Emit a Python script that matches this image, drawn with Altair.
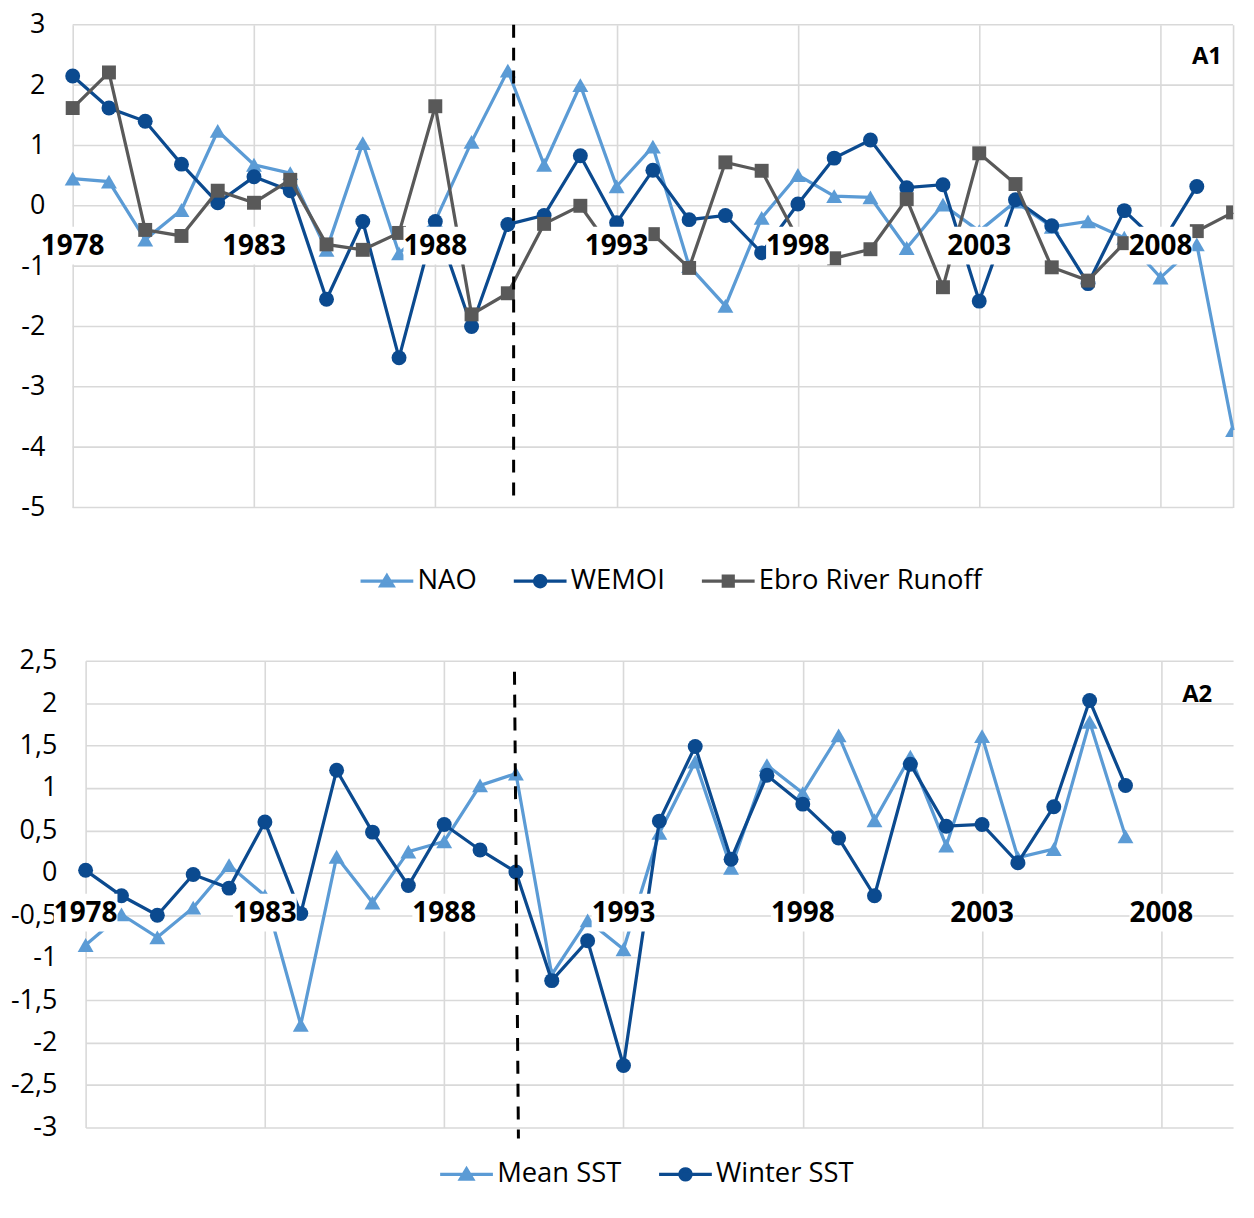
import math
import altair as alt
import pandas as pd

# ---------------- data ----------------
years = list(range(1978, 2011))
nao = [0.45, 0.40, -0.56, -0.07, 1.24, 0.68, 0.54, -0.73, 1.04, -0.79,
       -0.25, 1.06, 2.24, 0.68, 2.00, 0.32, 0.98, -1.00, -1.66, -0.20,
       0.51, 0.16, 0.14, -0.70, 0.02, -0.42, 0.07, -0.35, -0.26, -0.53,
       -1.19, -0.64, -3.72]
wemoi = [2.15, 1.62, 1.40, 0.69, 0.05, 0.48, 0.25, -1.55, -0.26, -2.52,
         -0.26, -2.00, -0.31, -0.16, 0.83, -0.28, 0.59, -0.23, -0.16, -0.78,
         0.03, 0.79, 1.09, 0.30, 0.35, -1.58, 0.10, -0.33, -1.29, -0.08,
         -0.65, 0.32, None]
ebro = [1.62, 2.21, -0.40, -0.50, 0.25, 0.05, 0.43, -0.64, -0.73, -0.45,
        1.65, -1.80, -1.45, -0.30, 0.00, -0.84, -0.47, -1.03, 0.72, 0.58,
        -0.55, -0.87, -0.72, 0.11, -1.35, 0.87, 0.36, -1.02, -1.24, -0.62,
        -0.50, -0.42, -0.11]

sst_years = list(range(1978, 2008))
mean_sst = [-0.85, -0.49, -0.76, -0.41, 0.09, -0.27, -1.79, 0.19, -0.35, 0.25,
            0.37, 1.03, 1.17, -1.20, -0.56, -0.90, 0.47, 1.31, 0.06, 1.27,
            0.94, 1.62, 0.62, 1.37, 0.32, 1.61, 0.18, 0.28, 1.78, 0.43]
winter_sst = [0.03, -0.27, -0.50, -0.02, -0.18, 0.60, -0.48, 1.21, 0.48, -0.15,
              0.57, 0.27, 0.01, -1.27, -0.80, -2.27, 0.61, 1.49, 0.16, 1.15,
              0.81, 0.41, -0.27, 1.28, 0.55, 0.57, 0.12, 0.78, 2.03, 1.03]

tick_years = [1978, 1983, 1988, 1993, 1998, 2003, 2008]
top_yticks = [3, 2, 1, 0, -1, -2, -3, -4, -5]
bottom_yticks = [2.5, 2, 1.5, 1, 0.5, 0, -0.5, -1, -1.5, -2, -2.5, -3]

series_a1 = ["NAO", "WEMOI", "Ebro River Runoff"]
series_a2 = ["Mean SST", "Winter SST"]

# ---------------- style ----------------
LIGHT = "#5B9BD5"
DARK = "#0B4A8F"
GRAY = "#595959"
GRID = "#D9D9D9"
FONT = "Open Sans"
X_START, X_END = 1978, 2010
W = 1153


def long_df(xs, cols):
    rows = []
    for name, vals in cols:
        for x, v in zip(xs, vals):
            if v is not None:
                rows.append({"year": x, "value": v, "series": name})
    return pd.DataFrame(rows)


df1 = long_df(years, [("NAO", nao), ("WEMOI", wemoi), ("Ebro River Runoff", ebro)])
df2 = long_df(sst_years, [("Mean SST", mean_sst), ("Winter SST", winter_sst)])
ticks_df = pd.DataFrame({"tick": tick_years, "label": [str(t) for t in tick_years]})


def poly_circle(r, n=20):
    pts = [(r * math.cos(2 * math.pi * i / n), r * math.sin(2 * math.pi * i / n)) for i in range(n)]
    return "M" + "L".join(f"{x:.3f},{y:.3f}" for x, y in pts) + "Z"


# legend symbols: a line with the marker in the middle (symbol size 400 -> 10px per unit)
LINE = "M-2.65,0L2.65,0"
LEG_SHAPE = {
    "triangle-up": LINE + "M0,-0.55L0.62,0.48L-0.62,0.48Z",
    "circle": LINE + poly_circle(0.56),
    "square": LINE + "M-0.5,-0.5L0.5,-0.5L0.5,0.5L-0.5,0.5Z",
}
# markers cut by the right edge of the frame (left halves)
HALF_SHAPE = {
    "triangle-up": "M0,-0.866L-1,0.866L0,0.866Z",
    "circle": "M0,-1A1,1,0,0,0,0,1Z",
    "square": "M-1,-1L0,-1L0,1L-1,1Z",
}


def panel(df, names, colors, shapes, sizes, ydom, yvals, label_expr, xgrid, x_left,
          rule, tag, tag_pos, leg_pos, h, label_pad, min_ext, own_ygrid):
    xs = alt.Scale(domain=[X_START, X_END], range=[x_left, W], nice=False, zero=False)
    ys = alt.Scale(domain=ydom, nice=False, zero=False)
    xax = alt.Axis(values=xgrid, labels=False, ticks=False, domain=False, grid=True,
                   gridColor=GRID, gridWidth=1.6, title=None, minExtent=0, maxExtent=0)
    yax = alt.Axis(values=yvals, labelExpr=label_expr, ticks=False, domain=False,
                   grid=not own_ygrid, gridColor=GRID, gridWidth=1.6, title=None,
                   labelFont=FONT, labelFontSize=27, labelColor="black",
                   labelPadding=label_pad, minExtent=min_ext)
    X = alt.X("year:Q", scale=xs, axis=xax)
    Y = alt.Y("value:Q", scale=ys, axis=yax)

    layers = []
    if own_ygrid:
        layers.append(
            alt.Chart(pd.DataFrame({"g": yvals})).mark_rule(color=GRID, strokeWidth=1.6)
            .encode(y=alt.Y("g:Q", scale=ys, axis=yax), x=alt.datum(X_START), x2=alt.datum(X_END))
        )
    for n, c, sh, sz in zip(names, colors, shapes, sizes):
        d = alt.Chart(df).transform_filter(alt.datum.series == n)
        layers.append(d.mark_line(color=c, strokeWidth=3.25).encode(x=X, y=Y))
        layers.append(d.transform_filter(alt.datum.year < X_END)
                      .mark_point(shape=sh, size=sz, filled=True, color=c, opacity=1)
                      .encode(x=X, y=Y))
        layers.append(d.transform_filter(alt.datum.year >= X_END)
                      .mark_point(shape=HALF_SHAPE[sh], size=sz, filled=True, color=c, opacity=1)
                      .encode(x=X, y=Y))

    one = pd.DataFrame({"a": [0]})
    layers.append(
        alt.Chart(one).mark_rule(color="black", strokeWidth=3, strokeDash=[13, 10])
        .encode(x=alt.datum(rule[0]), x2=alt.datum(rule[1]),
                y=alt.datum(rule[2]), y2=alt.datum(rule[3]))
    )
    XT = alt.X("tick:Q", scale=xs, axis=xax)
    layers.append(
        alt.Chart(ticks_df).mark_rect(color="white", xOffset=-32, x2Offset=32,
                                      yOffset=21, y2Offset=59)
        .encode(x=XT, x2="tick:Q", y=alt.datum(0), y2=alt.datum(0))
    )
    layers.append(
        alt.Chart(ticks_df).mark_text(font=FONT, fontSize=28, fontWeight="bold",
                                      color="black", dy=41, baseline="middle", align="center")
        .encode(x=XT, y=alt.datum(0), text="label:N")
    )
    layers.append(
        alt.Chart(pd.DataFrame({"t": [tag]})).mark_text(font=FONT, fontSize=24, fontWeight="bold",
                                                        color="black", baseline="middle")
        .encode(x=alt.datum(tag_pos[0]), y=alt.datum(tag_pos[1]), text="t:N")
    )
    leg = alt.Legend(orient="none", legendX=leg_pos[0], legendY=leg_pos[1],
                     direction="horizontal", title=None, labelFont=FONT,
                     labelFontSize=27.5, labelColor="black", labelLimit=600,
                     symbolSize=400, symbolStrokeWidth=3.25, labelOffset=17,
                     columnPadding=30, padding=0, symbolOpacity=1)
    layers.append(
        alt.Chart(pd.DataFrame({"series": names}))
        .mark_point(filled=False, clip=True, strokeWidth=3.25, opacity=1)
        .encode(
            x=alt.value(-500), y=alt.value(-500),
            color=alt.Color("series:N", scale=alt.Scale(domain=names, range=colors), legend=leg),
            fill=alt.Fill("series:N", scale=alt.Scale(domain=names, range=colors), legend=leg),
            shape=alt.Shape("series:N",
                            scale=alt.Scale(domain=names, range=[LEG_SHAPE[s] for s in shapes]),
                            legend=leg),
        )
    )
    return alt.layer(*layers).properties(width=W, height=h)


top = panel(df1, series_a1, [LIGHT, DARK, GRAY], ["triangle-up", "circle", "square"],
            [256, 225, 196], [-5, 3], top_yticks, "toString(datum.value)",
            tick_years + [X_END], -13, (1990.16, 1990.16, 3.0, -4.92), "A1", (2009.28, 2.46),
            (289, 545), 485, 41, 0, True)
bottom = panel(df2, series_a2, [LIGHT, DARK], ["triangle-up", "circle"],
               [256, 225], [-3, 2.5], bottom_yticks,
               "replace(toString(datum.value), '.', ',')",
               tick_years, 0, (1989.96, 1990.07, 2.37, -3.13), "A2", (2009.0, 2.09),
               (369, 502), 469, 29, 78, False)

chart = (
    alt.concat(top, bottom, columns=1, align="none", spacing=52)
    .resolve_scale(color="independent", fill="independent", shape="independent")
    .resolve_legend(color="independent", fill="independent", shape="independent")
    .properties(padding={"left": 0, "top": 0, "right": 0, "bottom": 0}, background="white")
    .configure_view(stroke=None)
)

chart.save("out.html", embed_options={"renderer": "svg", "actions": False})
